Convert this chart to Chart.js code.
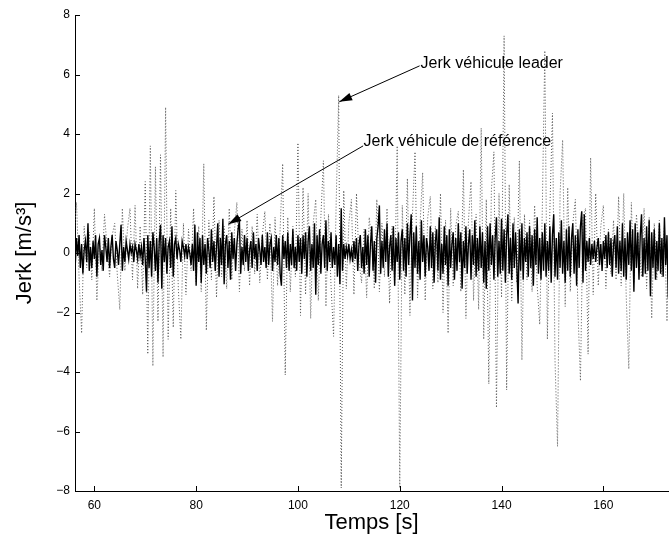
<!DOCTYPE html>
<html>
<head>
<meta charset="utf-8">
<script src="https://cdn.jsdelivr.net/npm/chart.js@4.4.0/dist/chart.umd.min.js"></script>
<style>
  body { margin: 0; background: #fff; }
  #jerkChart { display: block; }
</style>
</head>
<body>
<canvas id="jerkChart" width="669" height="540"></canvas>
<script>
// both traces start at 56 s; leader sampled every 0.5 s, reference every 0.25 s
const tStart = 56, stepLeader = 0.5, stepReference = 0.25;

// jerk of the leader vehicle (dotted trace)
const jerkLeader = [
  0.6, 1.7, -0.8, -2.7, 0.9, -0.5, 0.7, -0.9, 1.5, -1.6,
  0.4, -0.6, 1.3, 0.2, -0.8, 0.6, 1.0, -0.7, -1.9, 1.5,
  -0.6, 0.8, 1.5, -0.9, 1.6, -1.2, 0.9, -1.4, 2.4, -3.4,
  3.6, -3.8, 2.9, -2.3, 3.3, -3.5, 4.9, -2.9, 1.5, -2.5,
  2.1, -1.2, -2.9, 1.0, -1.4, 0.8, -0.6, 1.5, -1.0, 0.9,
  -1.3, 3.0, -2.6, 1.1, -0.9, 1.9, -1.5, 1.1, -0.8, 0.9,
  -1.2, 1.5, -0.9, 0.7, 1.7, -1.3, 0.8, -0.6, 1.1, -1.1,
  0.9, -0.7, 1.3, -1.0, 0.6, 1.4, -0.9, 1.0, -2.3, 1.2,
  -1.1, 0.8, 3.0, -4.1, 1.2, -1.3, 0.9, -0.8, 3.7, -2.1,
  2.2, -1.4, 2.0, -2.2, 1.0, 1.8, -1.6, 1.2, 3.1, -1.8,
  1.3, -1.1, -2.8, 1.6, 5.3, -7.9, 2.1, -1.2, 1.0, 1.8,
  -1.4, 2.0, -0.3, -1.0, 0.8, -1.5, 1.2, 0.4, -1.2, 1.8,
  -1.3, 1.0, -0.8, 1.5, -1.7, 0.9, -1.1, 3.6, -7.9, 1.6,
  -1.4, 2.5, -2.1, 1.3, 3.4, -1.5, 1.0, 2.7, -1.6, 1.2,
  1.9, -1.2, 0.9, -1.0, 2.0, -2.0, 1.1, -2.7, 1.5, -1.1,
  0.9, 1.4, -1.3, 2.8, -2.2, 1.1, 2.4, -1.6, 1.3, -1.9,
  4.2, -2.9, 1.8, -4.4, 2.1, 3.4, -5.2, 2.0, -1.5, 7.3,
  -4.6, 2.3, -1.6, 1.2, -1.0, 3.1, -3.6, 1.3, -0.9, 1.1,
  -1.3, 1.6, -1.1, -2.4, 1.4, 6.8, -2.9, 1.5, 4.7, -3.6,
  -6.5, 2.0, 3.8, -1.8, 2.2, -1.3, 1.0, 1.8, -1.9, -4.3,
  1.2, 1.5, -3.4, 3.2, -1.4, 2.0, -1.1, 0.9, 1.6, -1.2,
  0.8, -0.7, 1.1, -0.9, 1.9, -1.1, 2.0, -1.5, -3.9, 1.7,
  -1.0, 1.3, 0.2, -0.8, 1.5, -1.2, 1.2, -2.2, 1.0, -0.9,
  1.1, -0.8, 0.9, -2.3, 1.0
];

// jerk of the reference vehicle (solid trace)
const jerkReference = [
  0.2, -0.4, 0.5, -0.1, 0.6, -0.5, 0.3, -0.7, 0.1, 0.4,
  -0.3, 1.0, -0.6, 0.2, -0.5, 0.4, -0.2, 0.6, -0.8, 0.3,
  0.5, -0.4, 0.1, -0.6, 0.6, 0.2, -0.3, 0.5, -0.5, 0.2,
  0.6, -0.2, -0.5, 0.4, 0.1, -0.4, 0.3, 0.95, -0.6, 0.2,
  -0.3, 0.4, 0.1, -0.2, 0.3, 0.0, 0.2, -0.3, 0.3, 0.1,
  -0.2, 0.3, -0.1, 0.2, -0.4, 0.5, -0.2, -1.3, 0.6, -0.5,
  0.4, -0.8, 0.7, 0.2, -0.6, 0.5, -1.0, 0.4, 0.95, -1.2,
  0.6, -0.3, 0.5, -0.7, 0.2, 0.4, -0.5, 0.9, -0.8, 0.3,
  0.5, -0.2, 0.3, 0.1, -0.3, 0.4, 0.2, -0.1, 0.3, -0.2,
  0.2, 0.0, -0.4, 0.3, -0.6, 0.95, -1.1, 0.7, -0.3, 0.5,
  -1.0, 0.6, -0.4, 0.3, -0.7, 0.5, 0.1, -0.5, 0.8, -0.3,
  0.4, -0.6, 0.2, 1.0, -0.8, 0.5, -0.4, 1.15, -1.05, 0.3,
  0.6, -0.5, 0.4, -0.9, 0.7, -0.2, 0.5, -0.6, 0.3, 0.8,
  1.1, -0.7, 0.2, -0.4, 0.6, -0.3, 0.5, -0.6, 0.1, 0.4,
  -0.5, 0.7, -0.2, 0.3, -0.6, 0.5, 0.1, -0.4, 0.6, -0.3,
  0.2, -0.5, 0.7, -0.4, 0.3, 0.5, -0.6, 0.2, -0.3, 0.6,
  -0.4, 0.5, -0.7, -1.1, 0.6, -0.2, 0.4, -0.5, 0.7, -0.6,
  0.3, -0.4, 0.8, -0.5, 0.2, -0.6, 0.6, -0.3, 0.5, -0.7,
  0.6, -0.2, 0.7, -0.8, 0.4, 0.9, -0.6, 0.3, -0.5, 1.0,
  -1.4, 0.6, -0.4, 0.8, -0.7, 0.3, 0.6, -0.5, 1.1, -0.6,
  0.4, -0.3, 0.7, -0.5, 0.2, -0.4, 0.6, -0.8, 0.3, -1.05,
  1.5, -0.6, 0.3, -0.2, 0.2, -0.1, 0.3, -0.2, 0.1, -0.3,
  0.4, -0.2, 0.5, -0.6, 0.3, 0.6, -0.5, 0.2, -0.7, 0.8,
  -0.4, 0.6, -0.8, 0.3, 0.9, -0.6, 0.4, -1.0, 0.5, 0.9,
  1.6, -0.7, 0.4, -0.5, 0.8, -0.3, 1.0, -0.8, 0.2, 0.6,
  -0.6, 0.9, -1.1, 0.5, -0.3, 0.7, -0.9, 0.4, 0.8, -0.6,
  0.5, -0.8, 1.0, -0.4, 0.6, 1.3, -1.6, 0.7, -0.5, 0.9,
  -0.7, 0.4, -0.9, 1.1, -0.3, 0.6, -0.8, 0.5, 0.2, -0.6,
  0.9, -0.5, 0.7, -1.0, 0.4, 0.8, -0.6, 1.2, -0.9, 0.3,
  -0.7, 0.9, -0.4, 0.6, -1.1, 0.8, -0.5, 0.3, 0.7, -0.9,
  0.5, -0.6, 1.0, -0.3, 0.7, -1.2, 0.4, -0.5, 0.9, -0.7,
  0.3, 0.8, -0.9, 0.6, -0.4, 1.1, -0.8, 0.5, -0.6, 0.9,
  -0.5, 0.7, -1.0, 0.4, -1.2, 0.9, -0.6, 1.0, -0.4, 0.6,
  -0.9, 0.5, 1.2, -0.8, 0.4, -0.7, 1.15, -0.6, 0.8, -1.0,
  0.6, 1.3, -0.7, 0.5, -0.9, 1.0, -0.5, 0.7, -0.4, -1.7,
  0.8, -0.6, 1.0, -0.9, 0.5, -0.3, 0.7, -0.8, 0.9, -0.5,
  0.6, -1.1, 0.8, -0.4, 1.2, -0.7, 0.5, -0.9, 0.7, -0.6,
  1.0, -0.8, 0.4, -0.6, 0.9, -1.0, 0.6, 1.3, -0.8, 0.5,
  -0.9, 0.7, -0.5, 1.1, -0.7, 0.4, -1.0, 0.8, -0.6, 0.9,
  -0.8, 0.5, 1.0, -0.7, 0.6, -1.1, 0.8, -0.5, 0.9, 1.4,
  -1.0, 1.3, -0.6, 0.4, -0.3, 0.5, -0.4, 0.3, -0.2, 0.4,
  -0.3, 0.2, 0.5, -0.4, 0.3, -0.6, 0.4, -0.2, 0.6, -0.5,
  0.7, -0.4, 0.5, -0.8, 0.3, 0.6, -0.5, 0.9, -0.7, 0.4,
  -0.6, 1.0, -0.8, 0.5, -0.9, 0.7, -0.4, 1.1, -0.6, 0.8,
  -1.3, 1.0, -0.5, 0.7, -0.9, 0.6, 1.3, -0.8, 0.5, -0.7,
  0.9, -0.6, 1.1, -1.45, 0.7, -0.5, 0.8, -0.9, 0.4, -0.6,
  1.0, -0.7, 0.5, -0.8, 1.2, -0.4, 0.6, -1.5, 0.7
];

const xTicks = [60, 80, 100, 120, 140, 160];
const yTicks = [-8, -6, -4, -2, 0, 2, 4, 6, 8];

// text labels with arrows, in data units (s, m/s^3)
const notes = [
  { text: 'Jerk véhicule leader', textAt: [124.1, 6.35], from: [123.9, 6.29], tip: [108.1, 5.08] },
  { text: 'Jerk véhicule de référence', textAt: [112.9, 3.73], from: [112.8, 3.6], tip: [86.3, 0.97] }
];

const FONT = 'Liberation Sans, Arial, Helvetica, sans-serif';

const matlabAxes = {
  id: 'matlabAxes',
  afterDatasetsDraw(chart) {
    const { ctx, scales: { x, y } } = chart;
    ctx.save();
    ctx.strokeStyle = '#000';
    ctx.lineWidth = 1;
    ctx.beginPath();
    xTicks.forEach(v => {
      const px = Math.round(x.getPixelForValue(v)) + 0.5;
      ctx.moveTo(px, y.bottom);
      ctx.lineTo(px, y.bottom - 5);
    });
    yTicks.forEach(v => {
      const py = Math.round(y.getPixelForValue(v)) + 0.5;
      ctx.moveTo(x.left, py);
      ctx.lineTo(x.left + 5, py);
    });
    ctx.stroke();

    ctx.font = '16px ' + FONT;
    ctx.fillStyle = '#000';
    ctx.textBaseline = 'middle';
    ctx.textAlign = 'left';
    notes.forEach(n => {
      const fx = x.getPixelForValue(n.from[0]), fy = y.getPixelForValue(n.from[1]);
      const tx = x.getPixelForValue(n.tip[0]), ty = y.getPixelForValue(n.tip[1]);
      ctx.fillText(n.text, x.getPixelForValue(n.textAt[0]), y.getPixelForValue(n.textAt[1]));
      ctx.beginPath();
      ctx.moveTo(fx, fy);
      ctx.lineTo(tx, ty);
      ctx.stroke();
      // arrow head
      const a = Math.atan2(ty - fy, tx - fx);
      const len = 13, half = 4;
      ctx.beginPath();
      ctx.moveTo(tx, ty);
      ctx.lineTo(tx - len * Math.cos(a) + half * Math.sin(a), ty - len * Math.sin(a) - half * Math.cos(a));
      ctx.lineTo(tx - len * Math.cos(a) - half * Math.sin(a), ty - len * Math.sin(a) + half * Math.cos(a));
      ctx.closePath();
      ctx.fill();
    });
    ctx.restore();
  }
};

new Chart(document.getElementById('jerkChart'), {
  type: 'line',
  data: {
    datasets: [
      {
        label: 'Jerk véhicule de référence',
        data: jerkReference.map((v, i) => ({ x: tStart + i * stepReference, y: v })),
        borderColor: '#000',
        borderWidth: 1.4,
        pointRadius: 0,
        tension: 0
      },
      {
        label: 'Jerk véhicule leader',
        data: jerkLeader.map((v, i) => ({ x: tStart + i * stepLeader, y: v })),
        borderColor: '#555',
        borderWidth: 1,
        borderDash: [1, 2],
        pointRadius: 0,
        tension: 0
      }
    ]
  },
  options: {
    responsive: false,
    animation: false,
    devicePixelRatio: 1,
    layout: { padding: { top: 15, right: 1, left: 0, bottom: 0 } },
    plugins: {
      legend: { display: false },
      tooltip: { enabled: false }
    },
    scales: {
      x: {
        type: 'linear',
        min: 56.2,
        max: 172.7,
        afterBuildTicks: s => { s.ticks = xTicks.map(v => ({ value: v })); },
        afterFit: s => { s.height = 49; },
        grid: { display: false, drawTicks: false },
        border: { display: true, color: '#000', width: 1 },
        ticks: {
          color: '#000',
          padding: 7,
          maxRotation: 0,
          font: { family: FONT, size: 12 },
          callback: v => String(v)
        },
        title: {
          display: true,
          text: 'Temps [s]',
          color: '#000',
          font: { family: FONT, size: 22 },
          padding: { top: 0, bottom: 4 }
        }
      },
      y: {
        min: -8,
        max: 8,
        afterBuildTicks: s => { s.ticks = yTicks.map(v => ({ value: v })); },
        afterFit: s => { s.width = 75; },
        grid: { display: false, drawTicks: false },
        border: { display: true, color: '#000', width: 1 },
        ticks: {
          color: '#000',
          padding: 5,
          font: { family: FONT, size: 12 },
          callback: v => (v < 0 ? '\u2212' + Math.abs(v) : String(v))
        },
        title: {
          display: true,
          text: 'Jerk [m/s³]',
          color: '#000',
          font: { family: FONT, size: 22 },
          padding: { top: 12, bottom: 0 }
        }
      }
    }
  },
  plugins: [matlabAxes]
});
</script>
</body>
</html>
